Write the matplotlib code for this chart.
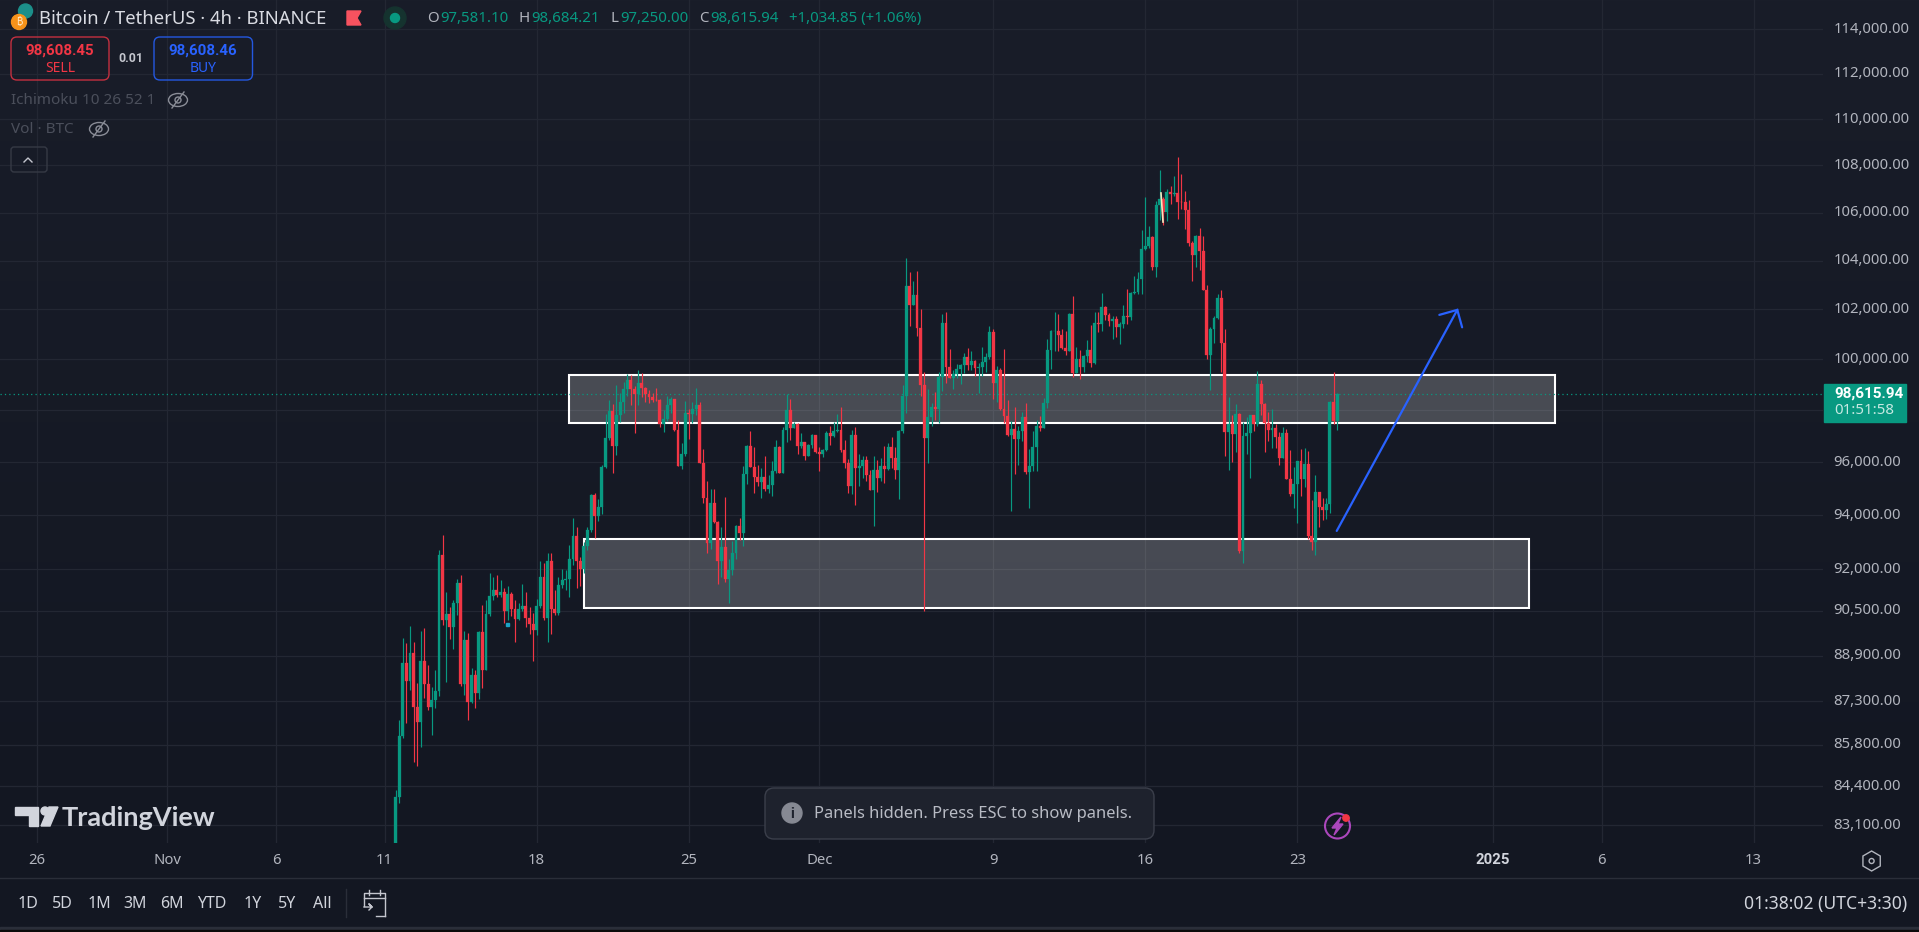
import numpy as np
import pandas as pd
import matplotlib
matplotlib.use('Agg')
import matplotlib.pyplot as plt
import matplotlib.dates as mdates
from matplotlib.patches import Rectangle, FancyBboxPatch, Circle, Ellipse, Polygon, RegularPolygon
from matplotlib.ticker import NullLocator

plt.rcParams['font.family'] = ['Noto Sans', 'DejaVu Sans']

# 4h candles (open = previous close)
first_open = 82200
closes = [
    84050, 86109, 88641, 88022, 88994, 87118, 86600, 88711, 87905, 87106,
    87349, 87660, 92525, 90168, 90384, 89928, 90779, 91503, 87905, 89455,
    87279, 88220, 87602, 89739, 88396, 90384, 91031, 91248, 91067, 91175,
    90491, 91103, 90563, 90204, 90563, 90671, 90252, 90024, 89811, 90671,
    91721, 90240, 92304, 90563, 90419, 91430, 91612, 91648, 92377, 93227,
    92304, 92013, 92857, 93448, 94756, 93970, 94306, 95816, 96926, 97971,
    96619, 97815, 98321, 98830, 99185, 98830, 98633, 99066, 98869, 98633,
    98516, 98400, 98390, 97465, 97660, 98204, 98438, 97233, 95854, 96312,
    97893, 97854, 98036, 98204, 95968, 94643, 92968, 94456, 93746, 92304,
    92820, 91648, 91976, 92599, 93596, 93338, 95551, 96619, 95816, 95437,
    95247, 95437, 94982, 95134, 95665, 96581, 95589, 97233, 98010, 97310,
    97465, 96619, 96772, 96235, 96658, 97041, 96389, 96312, 96466, 97118,
    97003, 97195, 97233, 96466, 95968, 95096, 97041, 95778, 95854, 96082,
    95513, 94944, 95703, 95399, 95854, 95740, 96581, 96158, 95703, 97195,
    98568, 102957, 102183, 102588, 101252, 98988, 96926, 97737, 98127, 98049,
    99303, 101454, 99697, 99264, 99421, 99618, 99776, 100093, 99776, 99934,
    99658, 99697, 99895, 100093, 101092, 99066, 99579, 98049, 97776, 97041,
    97272, 96888, 97195, 97737, 95627, 95854, 96581, 97387, 97310, 98282,
    100373, 101132, 101145, 100972, 100453, 100333, 101820, 99461, 100013, 99697,
    100133, 100373, 99855, 101454, 101413, 102102, 101779, 101535, 101616, 101292,
    101413, 101737, 101697, 102670, 102710, 103244, 104482, 104607, 104982, 103737,
    106326, 106579, 106030, 106874, 106790, 106832, 106452, 106440, 106115, 104732,
    104232, 105023, 104399, 102793, 100173, 101212, 101656, 102467, 100653, 97157,
    97465, 97080, 97854, 92673, 97003, 97118, 97815, 97465, 99027, 98244,
    97504, 97233, 97310, 96965, 96158, 97118, 95361, 94793, 95172, 96044,
    95361, 95930, 93227, 93005, 94868, 94306, 94194, 94419, 98321, 97581.10,
    98615.94]
highs = [
    84280, 86657, 89514, 89337, 89952, 89372, 87929, 89775, 89869, 88571,
    87812, 88396, 92710, 93251, 91175, 90647, 90887, 91660, 91794, 89775,
    89692, 88454, 88396, 89775, 90707, 90887, 91855, 91721, 91794, 91612,
    91321, 91394, 91175, 90887, 90767, 91467, 91175, 90647, 90408, 90911,
    92304, 92219, 92587, 92587, 91248, 91733, 92013, 91976, 92894, 93895,
    93559, 92439, 93017, 93571, 94794, 94831, 94606, 95892, 97854, 98400,
    98244, 98988, 98659, 99119, 99421, 99382, 98948, 99579, 99447, 98909,
    98790, 98659, 98869, 98438, 98010, 98555, 98529, 98438, 97621, 96747,
    98360, 98036, 98334, 98869, 98321, 96504, 95285, 94982, 94982, 93783,
    93559, 94681, 92377, 93042, 93633, 93883, 95854, 96650, 97195, 96581,
    95892, 95778, 96235, 95513, 96044, 96849, 96619, 97349, 98633, 98438,
    97556, 97491, 97105, 96772, 96680, 97080, 97041, 96594, 96504, 97195,
    97387, 97543, 97854, 98127, 96849, 96120, 97233, 97336, 96312, 96235,
    96235, 95703, 96235, 96082, 96158, 96619, 96747, 96977, 96594, 97233,
    98988, 104108, 103532, 103162, 103573, 102021, 99500, 98830, 98282, 98711,
    99500, 101820, 101901, 100413, 99579, 99816, 99816, 100240, 100453, 100333,
    99974, 99842, 100493, 100240, 101332, 101212, 99737, 99658, 100413, 98400,
    97582, 98127, 97387, 97932, 98282, 96504, 97195, 97621, 97776, 98477,
    100812, 101172, 101901, 101820, 101212, 101132, 101860, 102548, 100493, 100373,
    100173, 100772, 101372, 101901, 101901, 102670, 102143, 101860, 101737, 101737,
    101494, 102183, 102834, 102710, 103367, 103532, 105273, 106663, 105440, 105023,
    106494, 107815, 106663, 107003, 107131, 107558, 108370, 107644, 106917, 106537,
    104815, 105040, 105356, 105023, 102998, 101292, 101737, 102629, 102793, 101212,
    98516, 97815, 98244, 97880, 97543, 97737, 97830, 97815, 99540, 99185,
    98282, 97945, 98049, 97465, 97157, 97349, 97272, 96466, 95816, 96060,
    96504, 96543, 96428, 94569, 95513, 94880, 94643, 94643, 98340, 99500,
    98684.21]
lows = [
    81900, 83859, 86052, 86565, 87695, 85234, 85100, 85745, 87406, 87003,
    86143, 87083, 87498, 89988, 87987, 89479, 89124, 90348, 87847, 87521,
    86669, 87233, 87083, 87383, 87777, 88396, 90312, 90887, 91007, 91007,
    90048, 90168, 90324, 89384, 90168, 90491, 89928, 89680, 88722, 89633,
    90611, 90168, 89384, 89668, 90348, 90348, 91309, 91248, 91007, 92159,
    91321, 91394, 91855, 92710, 93387, 93141, 93783, 94045, 95778, 96849,
    95589, 96273, 97556, 97880, 98568, 98204, 97118, 98204, 98529, 98334,
    98270, 98334, 98373, 97361, 97157, 97595, 97880, 97195, 95854, 95740,
    96235, 96888, 97490, 97815, 95968, 94444, 92611, 92747, 93696, 91467,
    91733, 91540, 90779, 91794, 92377, 93079, 92857, 95172, 95803, 94830,
    95096, 94643, 94906, 94830, 94718, 95589, 95575, 95575, 96772, 96849,
    97300, 96312, 96555, 96082, 96235, 96543, 96338, 95677, 96210, 96428,
    96658, 96952, 97170, 96389, 95778, 94830, 94793, 94381, 95096, 95412,
    95285, 94930, 93596, 94868, 95285, 95222, 95703, 95765, 95361, 94606,
    97118, 97893, 101332, 102183, 100932, 98568, 90491, 95968, 97387, 97621,
    97504, 98751, 99066, 99250, 98830, 99264, 99027, 99461, 99579, 99579,
    99342, 98672, 99342, 99500, 100013, 98438, 98321, 98010, 97504, 97003,
    94157, 95551, 95892, 96811, 95551, 94270, 95665, 95665, 97195, 97300,
    98088, 99618, 100333, 100333, 100413, 100173, 100333, 99303, 99461, 99224,
    99500, 99895, 99697, 99816, 101092, 101132, 101575, 101332, 100812, 100892,
    100613, 101252, 101413, 101575, 102629, 102629, 102629, 104440, 104524, 103614,
    103326, 105690, 105482, 105651, 106368, 106705, 105735, 106157, 105315, 104607,
    103162, 103737, 103614, 102780, 100013, 98790, 100653, 101616, 99500, 96235,
    95703, 96006, 96389, 92599, 92231, 96312, 95399, 97195, 97387, 97815,
    96389, 96811, 96543, 96543, 95892, 96158, 95350, 94718, 94270, 93708,
    94718, 95058, 93116, 92710, 92525, 93559, 93820, 93858, 94082, 97465,
    97250.00]

price_ticks = [114000, 112000, 110000, 108000, 106000, 104000, 102000, 100000, 98000,
               96000, 94000, 92000, 90500, 88900, 87300, 85800, 84400, 83100]
tick_dates = ['2024-10-26', '2024-11-01', '2024-11-06', '2024-11-11', '2024-11-18', '2024-11-25',
              '2024-12-01', '2024-12-09', '2024-12-16', '2024-12-23', '2025-01-01', '2025-01-06', '2025-01-13']
tick_names = ['26', 'Nov', '6', '11', '18', '25', 'Dec', '9', '16', '23', '2025', '6', '13']

# drawn zones and the arrow
zone_lows = [97517, 90611]
zone_highs = [99382, 93116]
zone_starts = ['2024-11-19 12:00', '2024-11-20 04:20']
zone_ends = ['2025-01-03 20:40', '2025-01-02 16:20']
arrow_dates = ['2024-12-24 19:30', '2024-12-30 08:40']
arrow_prices = [93411, 101982]
head_dates = ['2024-12-29 12:50', '2024-12-30 08:40', '2024-12-30 14:00']
head_prices = [101779, 101982, 101278]
last_price = 98615.94

GREEN = '#089981'
RED = '#F23645'
BLUE = '#2962FF'
GRID = '#232733'
AXIS_TEXT = '#b2b5be'

closes = np.array(closes)
highs = np.array(highs)
lows = np.array(lows)
opens = np.r_[first_open, closes[:-1]]
times = pd.date_range('2024-11-11 12:00', periods=len(closes), freq='4h')
x = mdates.date2num(times)
colors = [GREEN if c >= o else RED for o, c in zip(opens, closes)]

fig = plt.figure(figsize=(19.19, 9.32), dpi=100, facecolor='#131722')

# background gradient
bg = fig.add_axes([0, 0, 1, 1], zorder=0)
top = np.array([0x19, 0x1d, 0x29]) / 255
bottom = np.array([0x13, 0x17, 0x22]) / 255
t = np.clip(np.linspace(0, 932 / 843, 932), 0, 1)[:, None, None]
bg.imshow(top * (1 - t) + bottom * t, aspect='auto')
bg.axis('off')

# main chart: 0..1823 px wide, 0..843 px tall, log price scale
ax = fig.add_axes([0, 89 / 932, 1823 / 1919, 843 / 932], zorder=1)
ax.patch.set_visible(False)
nov11 = mdates.date2num(pd.Timestamp('2024-11-11'))
ax.set_xlim(nov11 - 17.70, nov11 + 66.19)
ax.set_yscale('log')
ax.set_ylim(82523, 115336)
for s in ax.spines.values():
    s.set_visible(False)

ax.yaxis.set_minor_locator(NullLocator())
ax.yaxis.tick_right()
# the 98,000 label sits under the price tag in the screenshot
ax.set_yticks(price_ticks, ['' if p == 98000 else f'{p:,.2f}' for p in price_ticks])
ax.set_xticks(mdates.date2num(pd.to_datetime(tick_dates)), tick_names)
ax.tick_params(axis='y', length=0, pad=7.5, labelcolor=AXIS_TEXT, labelsize=10.7)
ax.tick_params(axis='x', length=0, pad=7.5, labelcolor=AXIS_TEXT, labelsize=10.7)
for lab in ax.get_yticklabels():
    lab.set_y(lab.get_position()[1])
    lab.set_verticalalignment('center')
year_label = ax.get_xticklabels()[10]
year_label.set_family('Roboto')
year_label.set_fontweight('bold')
year_label.set_color('#d1d4dc')
ax.grid(True, color=GRID, lw=0.9, zorder=0)
ax.set_axisbelow(True)

# zones
for lo, hi, a, b in zip(zone_lows, zone_highs, zone_starts, zone_ends):
    x0, x1 = mdates.date2num(pd.Timestamp(a)), mdates.date2num(pd.Timestamp(b))
    ax.add_patch(Rectangle((x0, lo), x1 - x0, hi - lo, facecolor=(1, 1, 1, 0.215),
                           edgecolor='white', lw=1.5, zorder=2))

ax.axhline(last_price, color=GREEN, lw=0.9, ls=(0, (1, 2.5)), zorder=2.5)

# candles
ax.vlines(x, lows, highs, colors=colors, lw=0.85, zorder=3)
ax.bar(x, np.abs(closes - opens), bottom=np.minimum(opens, closes), width=2.9 / 21.73,
       color=colors, edgecolor=colors, lw=0.2, zorder=3.1)

# blue arrow
ax.plot(mdates.date2num(pd.to_datetime(arrow_dates)), arrow_prices, color=BLUE, lw=1.6,
        solid_capstyle='round', zorder=4)
ax.plot(mdates.date2num(pd.to_datetime(head_dates)), head_prices, color=BLUE, lw=1.6,
        solid_capstyle='round', solid_joinstyle='miter', zorder=4)

# everything around the chart, in pixel coordinates
ui = fig.add_axes([0, 0, 1, 1], zorder=2)
ui.set_xlim(0, 1919)
ui.set_ylim(932, 0)
ui.axis('off')
ui.patch.set_visible(False)


def label(px, py, s, color='#d1d4dc', size=10.5, ha='left', weight='normal', **kw):
    ui.text(px, py + 1.5, s, color=color, fontsize=size, ha=ha, va='center', fontweight=weight, **kw)


# header
ui.add_patch(Circle((25.5, 11), 7, color='#1c8f8a'))
ui.add_patch(Circle((19, 22), 7.5, color='#f7931a'))
label(19, 21, '₿', color='#ffe9c8', size=7, ha='center',
      family=['Inter', 'Roboto', 'Noto Sans', 'Open Sans', 'Lato', 'DejaVu Sans'])
label(39, 17, 'Bitcoin / TetherUS · 4h · BINANCE', color='#d9dbe2', size=13.3)
ui.add_patch(Polygon([(347, 11), (361, 11), (357, 18), (361, 25), (347, 25)], color='#f7525f'))
ui.add_patch(Circle((395, 18), 11, color='#15332f'))
ui.add_patch(Circle((395, 18), 4.5, color=GREEN))
for px, s in zip([427, 518.5, 610, 699], 'OHLC'):
    label(px, 17, s, color='#b2b5be', size=10.8)
for px, s in zip([440, 531, 620, 710, 789],
                 ['97,581.10', '98,684.21', '97,250.00', '98,615.94', '+1,034.85 (+1.06%)']):
    label(px, 17, s, color=GREEN, size=10.8)

# sell / buy
ui.add_patch(FancyBboxPatch((11, 37), 98, 43, boxstyle='round,pad=0,rounding_size=6',
                            fc='none', ec='#c4303f', lw=1))
label(60, 49.5, '98,608.45', color=RED, size=10.8, ha='center', weight='bold', family='Roboto')
label(60, 66.5, 'SELL', color=RED, size=10, ha='center')
label(131, 56.5, '0.01', color='#c4c6ce', size=8.8, ha='center', weight='bold', family='Roboto')
ui.add_patch(FancyBboxPatch((154, 37), 98.5, 43, boxstyle='round,pad=0,rounding_size=6',
                            fc='none', ec='#2458e0', lw=1))
label(203, 49.5, '98,608.46', color=BLUE, size=10.8, ha='center', weight='bold', family='Roboto')
label(203, 66.5, 'BUY', color=BLUE, size=10, ha='center')

# hidden indicators
label(11, 99, 'Ichimoku 10 26 52 1', color='#4b4f5b', size=11)
label(11, 128, 'Vol · BTC', color='#4b4f5b', size=11)
for ex, ey in [(178, 100), (99, 129)]:
    ui.add_patch(Ellipse((ex, ey), 19, 13, fc='none', ec='#8a8d97', lw=1))
    ui.add_patch(Circle((ex, ey), 3, fc='none', ec='#8a8d97', lw=1))
    ui.plot([ex - 6, ex + 6], [ey + 8, ey - 8], color='#8a8d97', lw=1)
ui.add_patch(FancyBboxPatch((11, 147), 36, 25, boxstyle='round,pad=0,rounding_size=3',
                            fc='none', ec='#363a45', lw=1))
ui.plot([24, 28, 32], [162, 158, 162], color='#c4c6ce', lw=1)

# logo
ui.add_patch(Polygon([(15, 807), (38, 807), (38, 826), (29, 826), (29, 815), (15, 815)], color='#d1d4dc'))
ui.add_patch(Circle((45, 811), 4, color='#d1d4dc'))
ui.add_patch(Polygon([(49, 807), (58, 807), (50, 826), (41, 826)], color='#d1d4dc'))
label(62, 816, 'TradingView', color='#d1d4dc', size=19.5, weight='bold', family='Lato')

# toast
ui.add_patch(FancyBboxPatch((765, 788), 389, 51, boxstyle='round,pad=0,rounding_size=9',
                            fc='#1e222d', ec='#3b3f4b', lw=1))
ui.add_patch(Circle((792, 813), 10, color='#868993'))
label(792, 812, 'i', color='#1e222d', size=10.5, ha='center', weight='bold', family='Roboto')
label(814, 813, 'Panels hidden. Press ESC to show panels.', color='#b8bbc4', size=11.9)

# bolt icon
ui.add_patch(Circle((1337.5, 826), 12.5, fc='none', ec='#ab47bc', lw=1.5))
ui.add_patch(Polygon([(1341, 817), (1332, 828), (1337, 828), (1334, 835), (1343, 824), (1338, 824)],
                     color='#ab47bc'))
ui.add_patch(Circle((1346, 818), 3.2, color=RED))

# stray marks in the screenshot
ui.plot([1161, 1163], [193, 222], color='#f5e8c0', lw=1.2)
ui.add_patch(Rectangle((505.5, 622.5), 3, 3, color='#1ba3c6'))

# last price tag
ui.add_patch(Rectangle((1824, 384), 81.5, 37.5, color=GREEN))
label(1834, 392.5, '98,615.94', color='white', size=11, weight='bold', family='Roboto')
label(1834, 409.5, '01:51:58', color='#c6e9e2', size=10.8)

# settings hexagon
ui.add_patch(RegularPolygon((1871.6, 861), 6, radius=10, fc='none', ec=AXIS_TEXT, lw=1))
ui.add_patch(Circle((1871.6, 861), 2.5, fc='none', ec=AXIS_TEXT, lw=1))

# bottom toolbar
ui.plot([0, 1919], [878, 878], color='#2a2e39', lw=1)
ui.add_patch(Rectangle((0, 927), 1919, 3, color='#2a2e39'))
ui.add_patch(Rectangle((0, 930), 1919, 2, color='#0a0a0a'))
for px, s in zip([27.5, 62.5, 99, 135, 171.5, 212, 252.5, 287, 322],
                 ['1D', '5D', '1M', '3M', '6M', 'YTD', '1Y', '5Y', 'All']):
    label(px, 902.5, s, color='#d1d4dc', size=11.5, ha='center')
ui.plot([345.7, 345.7], [889, 917], color='#2a2e39', lw=1)
ui.plot([364, 364, 385, 385], [906, 893, 893, 916], color='#c4c6ce', lw=1)
ui.plot([364, 385], [898, 898], color='#c4c6ce', lw=1)
ui.plot([369, 369], [890, 895], color='#c4c6ce', lw=1)
ui.plot([380, 380], [890, 895], color='#c4c6ce', lw=1)
ui.plot([376, 385], [916, 916], color='#c4c6ce', lw=1)
ui.plot([364, 372, 369, 372, 369], [907, 907, 904, 907, 910], color='#c4c6ce', lw=1)
label(1907, 902, '01:38:02 (UTC+3:30)', color='#d1d4dc', size=12.6, ha='right')

fig.savefig('out.png', dpi=100, facecolor=fig.get_facecolor())
